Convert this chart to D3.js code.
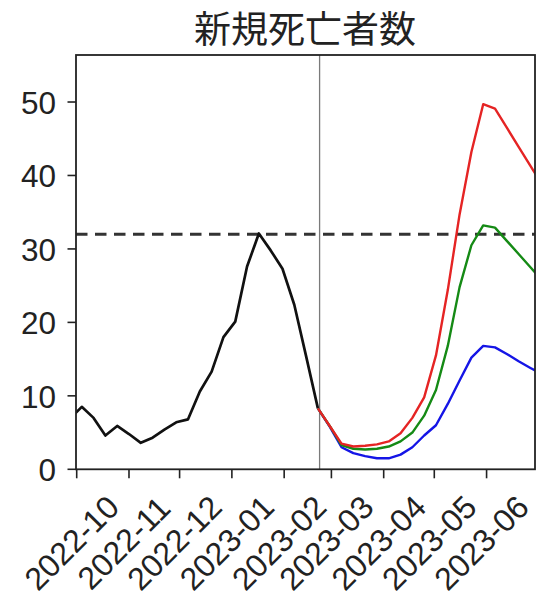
<!DOCTYPE html>
<html><head><meta charset="utf-8">
<script src="https://cdn.jsdelivr.net/npm/d3@7"></script>
<style>
html,body{margin:0;padding:0;background:#fff;}
svg{display:block;}
</style></head>
<body>
<svg id="chart" width="536" height="598"></svg>
<script>
const title = "新規死亡者数";
const blackDates = ["2022-09-27","2022-10-04","2022-10-11","2022-10-18","2022-10-25","2022-11-01","2022-11-08","2022-11-15","2022-11-22","2022-11-29","2022-12-06","2022-12-13","2022-12-20","2022-12-27","2023-01-03","2023-01-10","2023-01-17","2023-01-24","2023-01-31","2023-02-07","2023-02-14","2023-02-21"];
const blackValues = [6.9, 8.5, 7.0, 4.6, 5.9, 4.8, 3.6, 4.3, 5.4, 6.4, 6.8, 10.6, 13.3, 18.0, 20.1, 27.6, 32.1, 29.8, 27.3, 22.4, 15.4, 8.3];
const projDates = ["2023-02-21","2023-02-28","2023-03-07","2023-03-14","2023-03-21","2023-03-28","2023-04-04","2023-04-11","2023-04-18","2023-04-25","2023-05-02","2023-05-09","2023-05-16","2023-05-23","2023-05-30","2023-06-06","2023-06-13","2023-06-20","2023-06-27","2023-07-04"];
const redValues = [8.3, 5.9, 3.5, 3.1, 3.2, 3.4, 3.8, 4.9, 7.0, 9.8, 15.5, 24.4, 34.7, 43.2, 49.7, 49.1, 46.5, 43.9, 41.3, 38.7];
const greenValues = [8.3, 5.9, 3.3, 2.8, 2.7, 2.8, 3.1, 3.8, 5.0, 7.3, 10.8, 16.8, 24.8, 30.5, 33.2, 32.9, 31.1, 29.3, 27.5, 25.7];
const blueValues = [8.3, 5.8, 3.0, 2.2, 1.8, 1.5, 1.5, 2.0, 3.0, 4.6, 6.0, 8.9, 12.1, 15.2, 16.8, 16.6, 15.7, 14.7, 13.8, 12.9];
const threshold = 32;
const currentDate = "2023-02-22";
const xTickDates = ["2022-10-01","2022-11-01","2022-12-01","2023-01-01","2023-02-01","2023-03-01","2023-04-01","2023-05-01","2023-06-01"];
const xTickLabels = ["2022-10","2022-11","2022-12","2023-01","2023-02","2023-03","2023-04","2023-05","2023-06"];
const yTicks = [0, 10, 20, 30, 40, 50];
const xDomain = ["2022-09-30T14:00","2023-06-29T17:00"];
const yDomain = [0, 56.4];

const parse = s => new Date(s.length > 10 ? s : s + "T00:00");
const svg = d3.select("#chart");
const L = 76, R = 535, T = 55, B = 469.3;

const x = d3.scaleTime().domain(xDomain.map(parse)).range([L, R]);
const y = d3.scaleLinear().domain(yDomain).range([B, T]);

svg.append("defs").append("clipPath").attr("id","clip")
  .append("rect").attr("x", L).attr("y", T).attr("width", R - L).attr("height", B - T);

const plot = svg.append("g").attr("clip-path","url(#clip)");
const line = d3.line().x(d => x(d[0])).y(d => y(d[1]));
const mk = (ds, vs) => ds.map((d, i) => [parse(d), vs[i]]);

plot.append("line")
  .attr("x1", x(parse(currentDate))).attr("x2", x(parse(currentDate)))
  .attr("y1", T).attr("y2", B)
  .attr("stroke", "#7a7a7a").attr("stroke-width", 1.3);

plot.append("line")
  .attr("x1", L).attr("x2", R)
  .attr("y1", y(threshold)).attr("y2", y(threshold))
  .attr("stroke", "#333").attr("stroke-width", 2.9)
  .attr("stroke-dasharray", "11.5,7.5");

plot.append("path").datum(mk(blackDates, blackValues))
  .attr("d", line).attr("fill","none").attr("stroke","#111")
  .attr("stroke-width", 2.7).attr("stroke-linejoin","round");

[[blueValues, "#1515e6"], [greenValues, "#158a15"], [redValues, "#e52424"]].forEach(([vs, c]) => {
  plot.append("path").datum(mk(projDates, vs))
    .attr("d", line).attr("fill","none").attr("stroke", c)
    .attr("stroke-width", 2.4).attr("stroke-linejoin","round");
});

svg.append("rect").attr("x", L).attr("y", T).attr("width", R - L).attr("height", B - T)
  .attr("fill","none").attr("stroke","#222").attr("stroke-width", 1.8);

const yg = svg.append("g");
yTicks.forEach(v => {
  yg.append("line").attr("x1", L - 8.5).attr("x2", L).attr("y1", y(v)).attr("y2", y(v))
    .attr("stroke","#222").attr("stroke-width", 1.6);
  yg.append("text").attr("x", L - 20).attr("y", y(v) + 1)
    .attr("text-anchor","end").attr("dominant-baseline","central")
    .attr("font-family","'Liberation Sans', Arial, sans-serif").attr("font-size", 31.5)
    .attr("fill","#222").text(v);
});

const xg = svg.append("g");
xTickDates.forEach((d, i) => {
  const xx = x(parse(d));
  xg.append("line").attr("x1", xx).attr("x2", xx).attr("y1", B).attr("y2", B + 9)
    .attr("stroke","#222").attr("stroke-width", 1.6);
  const fs = 32;
  const t = xg.append("text")
    .attr("text-anchor","middle").attr("dominant-baseline","central")
    .attr("font-family","'Liberation Sans', Arial, sans-serif").attr("font-size", fs)
    .attr("fill","#222").text(xTickLabels[i]);
  const cx = xx - 5;
  const cy = 543;
  t.attr("x", cx).attr("y", cy).attr("transform", `rotate(-45,${cx},${cy})`);
});

svg.append("text").attr("x", 305).attr("y", 27)
  .attr("text-anchor","middle").attr("dominant-baseline","central")
  .attr("font-family","'Noto Sans CJK JP', sans-serif").attr("font-size", 37)
  .attr("fill","#222").text(title);
</script>
</body></html>
